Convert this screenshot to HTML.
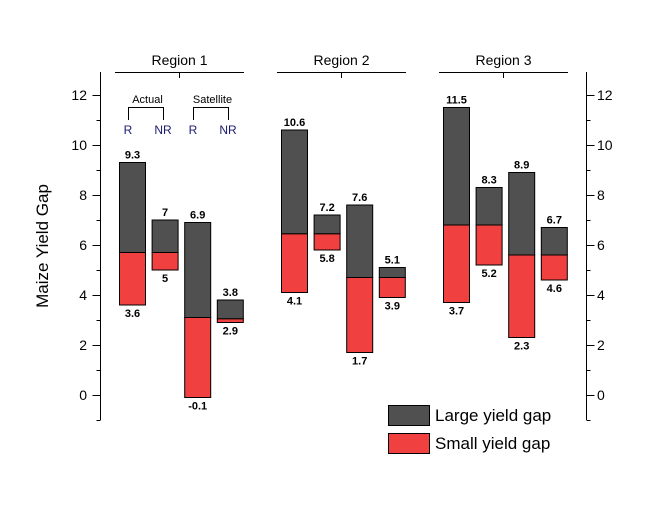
<!DOCTYPE html>
<html><head><meta charset="utf-8"><style>
body{margin:0;background:#fff}
text{font-family:"Liberation Sans",Arial,sans-serif}
</style></head><body>
<svg id="chart" width="650" height="500" viewBox="0 0 650 500" xmlns="http://www.w3.org/2000/svg">
<g id="axes"></g><g id="bars"></g><g id="labels"></g>
<g>
<rect x="388.5" y="405.5" width="41" height="20" fill="#505050" stroke="#000"/>
<text x="435" y="421" font-size="17">Large yield gap</text>
<rect x="388.5" y="433.5" width="41" height="20" fill="#f04040" stroke="#000"/>
<text x="435" y="449" font-size="17">Small yield gap</text>
</g>
<text transform="translate(48,246) rotate(-90)" text-anchor="middle" font-size="17">Maize Yield Gap</text>
</svg>
<script>
const bottoms=[3.6,5,-0.1,2.9, 4.1,5.8,1.7,3.9, 3.7,5.2,2.3,4.6];
const splits=[5.7,5.7,3.1,3.05, 6.45,6.45,4.7,4.7, 6.8,6.8,5.6,5.6];
const tops=[9.3,7,6.9,3.8, 10.6,7.2,7.6,5.1, 11.5,8.3,8.9,6.7];
const bottomLabels=["3.6","5","-0.1","2.9","4.1","5.8","1.7","3.9","3.7","5.2","2.3","4.6"];
const topLabels=["9.3","7","6.9","3.8","10.6","7.2","7.6","5.1","11.5","8.3","8.9","6.7"];
const regions=["Region 1","Region 2","Region 3"];
const yTicks=[0,2,4,6,8,10,12];
const NS="http://www.w3.org/2000/svg";
const y=v=>395-v*25;
const bx=i=>{const g=Math.floor(i/4),k=i%4;return 119+g*162+k*32.6;};
const W=26;
function mk(p,t,a){const e=document.createElementNS(NS,t);for(const k in a)e.setAttribute(k,a[k]);p.appendChild(e);return e;}
const axes=document.getElementById('axes'),bars=document.getElementById('bars'),labels=document.getElementById('labels');
// axes
const la=mk(axes,'line',{x1:100.5,y1:72,x2:100.5,y2:y(-1),stroke:'#000'});


const ra=mk(axes,'line',{x1:586.5,y1:72,x2:586.5,y2:y(-1),stroke:'#000'});


for(let v=-1;v<=13;v++){
  const major=v%2===0&&v>=0&&v<=12;
  const L=major?8:4;
  const yy=Math.round(y(v))+0.5;
  if(yy<72)continue;
  mk(axes,'line',{x1:100.5-L,y1:yy,x2:100.5,y2:yy,stroke:'#000'});
  mk(axes,'line',{x1:586.5,y1:yy,x2:586.5+L,y2:yy,stroke:'#000'});
}
yTicks.forEach(v=>{
  const t=mk(axes,'text',{x:87,y:y(v)+5,'text-anchor':'end','font-size':14});t.textContent=v;
  
  
  const t2=mk(axes,'text',{x:597,y:y(v)+5,'font-size':14});t2.textContent=v;
  
  
});
// regions
regions.forEach((r,g)=>{
  const x0=115+g*162,x1=244+g*162,cx=(x0+x1)/2;
  mk(axes,'line',{x1:x0,y1:72.5,x2:x1,y2:72.5,stroke:'#000'});
  mk(axes,'line',{x1:cx,y1:72,x2:cx,y2:78,stroke:'#000'});
  const t=mk(axes,'text',{x:cx,y:65,'text-anchor':'middle','font-size':14});t.textContent=r;
  
  
});
// Actual / Satellite brackets
[["Actual",128,163],["Satellite",193,228]].forEach(([n,a,b])=>{
  const t=mk(axes,'text',{x:(a+b)/2+2,y:103,'text-anchor':'middle','font-size':11});t.textContent=n;
  
  
  mk(axes,'path',{d:`M${a+0.5},120 V107.5 H${b+0.5} V120`,fill:'none',stroke:'#000'});
  const r=mk(axes,'text',{x:a,y:134,'text-anchor':'middle','font-size':12,fill:'#1a1a70'});r.textContent='R';
  
  
  const nr=mk(axes,'text',{x:b,y:134,'text-anchor':'middle','font-size':12,fill:'#1a1a70'});nr.textContent='NR';
  
  
});
// bars
bottoms.forEach((b,i)=>{
  const x=bx(i);
  const red=mk(bars,'rect',{x:x+0.5,y:y(splits[i]),width:W,height:y(b)-y(splits[i]),fill:'#f04040',stroke:'#000'});
  
  
  const dk=mk(bars,'rect',{x:x+0.5,y:y(tops[i]),width:W,height:y(splits[i])-y(tops[i]),fill:'#505050',stroke:'#000'});
  
  
  const tt=mk(labels,'text',{x:x+W/2+0.5,y:y(tops[i])-4,'text-anchor':'middle','font-size':11,'font-weight':'bold'});tt.textContent=topLabels[i];
  
  
  const bt=mk(labels,'text',{x:x+W/2+0.5,y:y(b)+12,'text-anchor':'middle','font-size':11,'font-weight':'bold'});bt.textContent=bottomLabels[i];
  
  
});
</script>
</body></html>
